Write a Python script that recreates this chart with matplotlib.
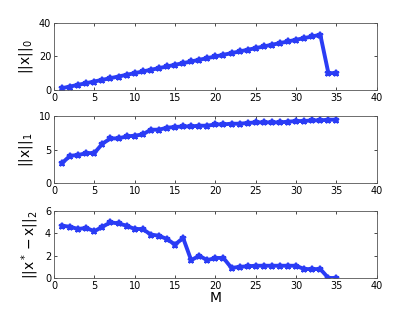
import numpy as np
import matplotlib
matplotlib.use('Agg')
import matplotlib.pyplot as plt

M = list(range(1, 36))

# ||x||_0
L0 = list(range(1, 34)) + [10, 10]

# ||x||_1
L1 = [3.0, 4.1, 4.2, 4.5, 4.5, 5.9, 6.7, 6.7, 7.0, 7.1, 7.3, 8.0, 8.0, 8.3, 8.4,
      8.5, 8.5, 8.6, 8.6, 8.8, 8.8, 8.9, 8.9, 9.0, 9.1, 9.1, 9.1, 9.1, 9.2, 9.3,
      9.3, 9.4, 9.4, 9.5, 9.5]

# ||x* - x||_2
L2 = [4.7, 4.6, 4.4, 4.5, 4.2, 4.6, 5.0, 4.9, 4.7, 4.4, 4.4, 3.9, 3.8, 3.5, 3.0,
      3.6, 1.6, 2.0, 1.6, 1.8, 1.8, 0.9, 1.0, 1.05, 1.1, 1.1, 1.1, 1.1, 1.1, 1.1,
      0.8, 0.8, 0.8, 0.0, 0.0]

BLUE = '#2a3cf5'

fig = plt.figure(figsize=(4.15, 3.12), dpi=100)

panels = [
    (L0, [0, 20, 40], (0, 40), r'$||\mathrm{x}||_0$', 0.712),
    (L1, [0, 5, 10], (0, 10), r'$||\mathrm{x}||_1$', 0.413),
    (L2, [0, 2, 4, 6], (0, 6), r'$||\mathrm{x}^* - \mathrm{x}||_2$', 0.109),
]

for vals, yt, yl, lab, bot in panels:
    ax = fig.add_axes([0.130, bot, 0.778, 0.214])
    ax.plot(M, vals, color=BLUE, lw=2.8, marker='*', ms=5, mew=1.5)
    ax.set_xlim(0, 40)
    ax.set_ylim(*yl)
    ax.set_xticks(range(0, 41, 5))
    ax.set_yticks(yt)
    ax.tick_params(direction='in', labelsize=7, length=2, width=0.5,
                   top=True, right=True, pad=2)
    for s in ax.spines.values():
        s.set_linewidth(0.6)
        s.set_color('#555555')
    ax.set_ylabel(lab, fontsize=10, labelpad=3)

ax.set_xlabel('M', fontsize=10, labelpad=0)

fig.savefig('out.png', dpi=100)
